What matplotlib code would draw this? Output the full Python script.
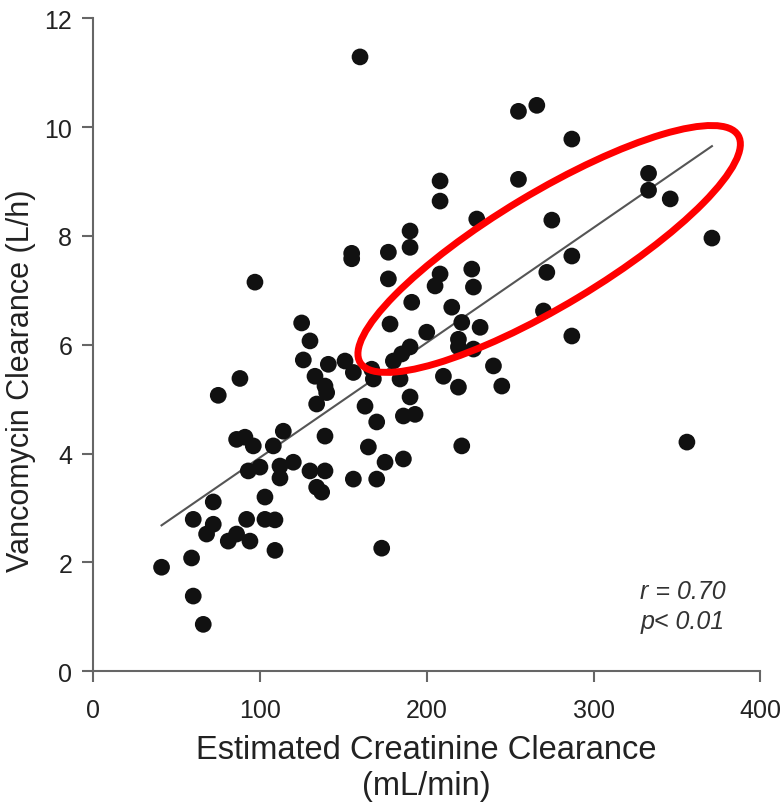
import matplotlib.pyplot as plt
from matplotlib.patches import Ellipse
from matplotlib.transforms import ScaledTranslation

# 数据
crcl = [41, 59, 60, 60, 66, 72, 72, 68, 75, 81, 86, 86, 88, 91, 92, 93, 94, 96, 97, 100,
        103, 103, 108, 109, 109, 112, 112, 114, 120, 125, 126, 130, 130, 133, 134, 134, 137,
        139, 140, 139, 139, 141, 151, 155, 155, 156, 156, 160, 163, 165, 167, 168, 170, 170,
        173, 175, 177, 177, 178, 180, 184, 185, 186, 186, 190, 190, 190, 190, 191, 193, 200,
        205, 208, 208, 208, 210, 215, 219, 219, 219, 221, 221, 227, 228, 228, 230, 232, 240,
        245, 255, 255, 266, 270, 272, 275, 287, 287, 287, 333, 333, 346, 356, 371]
vanco_cl = [1.91, 2.08, 2.79, 1.38, 0.86, 3.11, 2.70, 2.52, 5.07, 2.39, 2.52, 4.26, 5.38, 4.30,
            2.79, 3.68, 2.39, 4.14, 7.15, 3.75, 3.20, 2.79, 4.14, 2.78, 2.22, 3.77, 3.55, 4.41,
            3.84, 6.40, 5.72, 6.07, 3.68, 5.42, 4.91, 3.38, 3.29, 5.24, 5.12, 4.32, 3.68, 5.64,
            5.70, 7.68, 7.58, 5.49, 3.53, 11.29, 4.87, 4.12, 5.55, 5.37, 4.58, 3.53, 2.26, 3.84,
            7.70, 7.21, 6.38, 5.70, 5.37, 5.83, 4.69, 3.90, 8.09, 7.79, 5.96, 5.04, 6.78, 4.72,
            6.23, 7.08, 9.01, 8.64, 7.30, 5.42, 6.69, 6.10, 5.96, 5.22, 6.41, 4.14, 7.39, 7.06,
            5.92, 8.31, 6.32, 5.61, 5.24, 10.29, 9.04, 10.40, 6.62, 7.33, 8.29, 9.78, 7.63, 6.16,
            9.15, 8.84, 8.68, 4.21, 7.96]

# 回归线端点
fit_x = [41, 371]
fit_y = [2.68, 9.65]

plt.rcParams['font.family'] = ['Liberation Sans', 'DejaVu Sans']

fig = plt.figure(figsize=(7.83, 8.04), dpi=100)
ax = fig.add_axes([0.119, 0.164, 0.852, 0.812])

ax.plot(fit_x, fit_y, color='#555555', linewidth=1.5, zorder=2)
ax.scatter(crcl, vanco_cl, s=145, color='#111111', edgecolors='none', zorder=3)

ax.set_xlim(0, 400)
ax.set_ylim(0, 12)
ax.set_xticks([0, 100, 200, 300, 400])
ax.set_yticks([0, 2, 4, 6, 8, 10, 12])
for side in ['top', 'right']:
    ax.spines[side].set_visible(False)
for side in ['left', 'bottom']:
    ax.spines[side].set_color('#666666')
    ax.spines[side].set_linewidth(1.5)
ax.tick_params(colors='#666666', width=1.5, length=8, labelsize=18, labelcolor='#222222')
ax.tick_params(axis='y', pad=7)
ax.tick_params(axis='x', pad=11)

ax.set_xlabel('Estimated Creatinine Clearance\n(mL/min)', fontsize=23.5, color='#222222',
              labelpad=9, linespacing=1.22)
ax.set_ylabel('Vancomycin Clearance (L/h)', fontsize=22, color='#222222')
ax.yaxis.set_label_coords(-0.085, 0.447)

ax.text(328, 1.47, 'r = 0.70', fontsize=18, style='italic', color='#333333', va='center')
ax.text(328, 0.92, 'p< 0.01', fontsize=18, style='italic', color='#333333', va='center')

# 红色椭圆标注
trans = fig.dpi_scale_trans + ScaledTranslation(273.4, 7.76, ax.transData)
ell = Ellipse((0, 0), width=4.41, height=1.13, angle=31, fill=False,
              edgecolor='red', linewidth=5, transform=trans, zorder=4)
ax.add_patch(ell)

fig.savefig('out.png', dpi=100)
